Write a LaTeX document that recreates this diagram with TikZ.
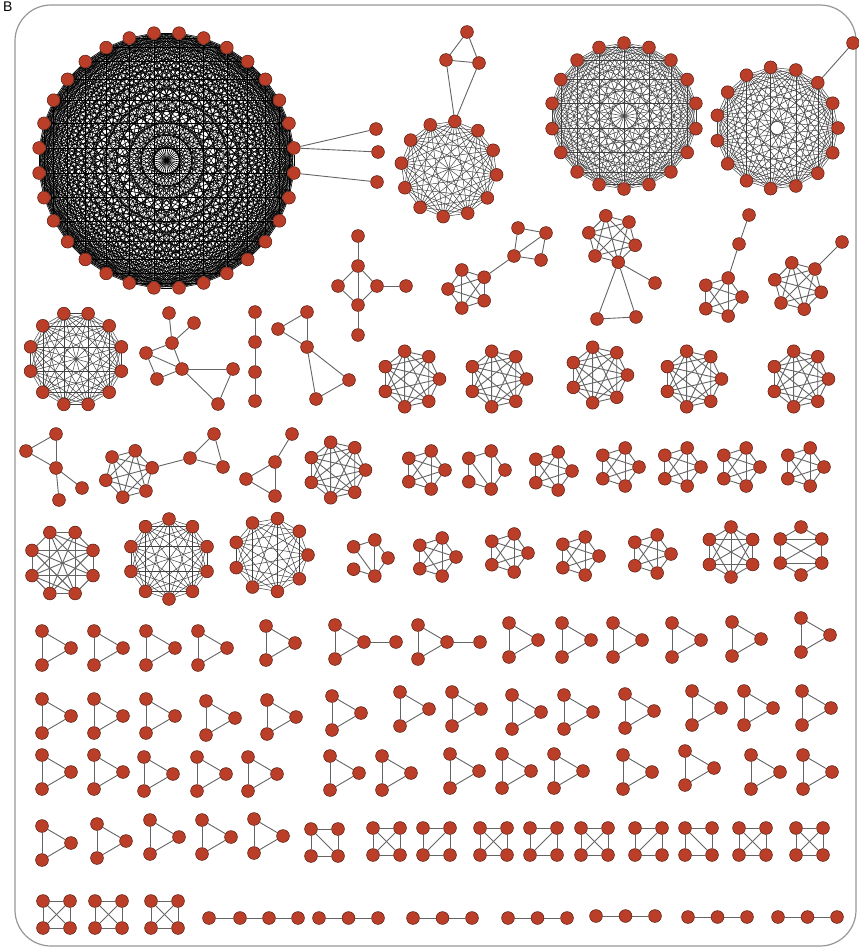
\documentclass[tikz,border=0pt]{standalone}
\usepackage{fontspec}
\setsansfont{Liberation Sans}
\definecolor{nodered}{RGB}{186,62,40}
\definecolor{nodeborder}{RGB}{85,25,15}
\definecolor{edgegray}{RGB}{100,100,100}
\definecolor{framegray}{RGB}{150,150,150}
\pgfdeclarelayer{edgelayer}
\pgfsetlayers{edgelayer,main}
% ring of n nodes: name, cx, cy, r, n, start angle
\newcommand\ringV[6]{\foreach \va in {1,...,#5}{\node[v] (#1-\va) at ({#2+#4*cos(#6+360*(\va-1)/#5)},{#3-#4*sin(#6+360*(\va-1)/#5)}) {};}}
% complete graph edges: name, n, style
\newcommand\kE[3]{\begin{pgfonlayer}{edgelayer}\foreach \va in {1,...,#2}{\foreach \vb in {\va,...,#2}{\ifnum\va<\vb\relax\draw[#3] (#1-\va) -- (#1-\vb);\fi}}\end{pgfonlayer}}
% explicit edges: name, list a/b
\newcommand\eL[2]{\begin{pgfonlayer}{edgelayer}\foreach \va/\vb in {#2}{\draw[ed] (#1-\va) -- (#1-\vb);}\end{pgfonlayer}}
% cycle edges: name, n
\newcommand\cycE[2]{\begin{pgfonlayer}{edgelayer}\foreach \va in {1,...,#2}{\pgfmathtruncatemacro\vb{mod(\va,#2)+1}\draw[ed] (#1-\va) -- (#1-\vb);}\end{pgfonlayer}}
% explicit points: name, list k/x/y
\newcommand\ptsV[2]{\foreach \va/\px/\py in {#2}{\node[v] (#1-\va) at (\px,\py) {};}}
% triangle from top-left node
\newcommand\triG[3]{\node[v] (#1-1) at (#2,#3) {};\node[v] (#1-2) at ({#2},{#3+34}) {};\node[v] (#1-3) at ({#2+29},{#3+17}) {};\eL{#1}{1/2,2/3,1/3}}
% square from top-left node, extra edges
\newcommand\sqG[4]{\node[v] (#1-1) at (#2,#3) {};\node[v] (#1-2) at ({#2+27},{#3}) {};\node[v] (#1-3) at ({#2+27},{#3+27}) {};\node[v] (#1-4) at ({#2},{#3+27}) {};\eL{#1}{1/2,2/3,3/4,4/1,#4}}
% path of three from left node
\newcommand\pthG[3]{\node[v] (#1-1) at (#2,#3) {};\node[v] (#1-2) at ({#2+29.5},{#3}) {};\node[v] (#1-3) at ({#2+59},{#3}) {};\eL{#1}{1/2,2/3}}
\begin{document}
\begin{tikzpicture}[x=1pt,y=-1pt,
  v/.style={circle,fill=nodered,draw=nodeborder,line width=0.5pt,minimum size=12.8pt,inner sep=0pt},
  ed/.style={draw=edgegray,line width=0.9pt},
  edmid/.style={draw=black!75,line width=0.5pt},
  edthin/.style={draw=black,line width=0.6pt},
  frame/.style={draw=framegray,line width=1.2pt,rounded corners=36pt}]
\useasboundingbox (0,0) rectangle (859,950);
\draw[frame] (15,5) rectangle (856,946);
\node[anchor=base west,font=\sffamily\fontsize{14}{14}\selectfont,inner sep=0pt] (lbl) at (3,12) {B};

% ---------- top large graphs ----------
\ringV{ga}{166.5}{160.5}{128}{32}{5.625}
\kE{ga}{32}{edthin}
\ptsV{gap}{1/376/129,2/378/152,3/377/182}
\begin{pgfonlayer}{edgelayer}\draw[ed] (ga-1)--(gap-1) (ga-1)--(gap-2) (ga-32)--(gap-3);\end{pgfonlayer}

\ringV{gb}{449}{169}{48}{12}{23}
\kE{gb}{12}{edmid}
\ptsV{gbt}{1/467/32,2/446/60,3/479/63}
\eL{gbt}{1/2,1/3,2/3}
\begin{pgfonlayer}{edgelayer}\draw[ed] (gbt-2)--(gb-3) (gbt-3)--(gb-3);\end{pgfonlayer}

\ringV{gc}{624}{116}{73}{18}{90}
\kE{gc}{18}{edmid}

\ringV{gd}{777}{128}{61}{15}{0}
\kE{gd}{15}{edmid}
\node[v] (gdp) at (853,43) {};
\begin{pgfonlayer}{edgelayer}\draw[ed] (gd-3)--(gdp);\end{pgfonlayer}

% ---------- second band ----------
\ptsV{ge}{1/358/236,2/358/266,3/338/286,4/377/286,5/406/286,6/358/305,7/358/335}
\eL{ge}{1/2,2/3,2/4,2/6,3/6,4/6,4/5,6/7}

\ringV{gf}{468}{289}{20}{5}{36}
\kE{gf}{5}{ed}
\ptsV{gfs}{1/518/228,2/546/233,3/514/256,4/541/260}
\eL{gfs}{1/2,1/3,2/3,2/4,3/4}
\begin{pgfonlayer}{edgelayer}\draw[ed] (gf-1)--(gfs-3);\end{pgfonlayer}

\ringV{gg}{612}{239}{24}{6}{-15}
\kE{gg}{6}{ed}
\ptsV{ggx}{1/655/283,2/597/319,3/636/317}
\eL{ggx}{2/3}
\begin{pgfonlayer}{edgelayer}\draw[ed] (gg-6)--(ggx-1) (gg-6)--(ggx-2) (gg-6)--(ggx-3);\end{pgfonlayer}

\ringV{gh}{722}{297}{20}{5}{0}
\kE{gh}{5}{ed}
\ptsV{ghx}{1/739/244,2/749/215}
\eL{ghx}{1/2}
\begin{pgfonlayer}{edgelayer}\draw[ed] (gh-2)--(ghx-1);\end{pgfonlayer}

\ringV{gi}{798}{286}{24}{6}{-15}
\kE{gi}{6}{ed}
\node[v] (gip) at (842,242) {};
\begin{pgfonlayer}{edgelayer}\draw[ed] (gi-2)--(gip);\end{pgfonlayer}

\ringV{gj}{76}{359}{47}{12}{15}
\kE{gj}{12}{edmid}

\ptsV{gk}{1/169/313,2/194/323,3/172/343,4/146/353,5/182/369,6/157/379,7/233/369,8/218/404}
\eL{gk}{1/3,2/3,3/4,3/5,4/5,4/6,6/5,5/7,5/8,7/8}

\ptsV{gl}{1/255/312,2/255/342,3/255/372,4/255/401}
\eL{gl}{1/2,2/3,3/4}

\ptsV{gm}{1/307/312,2/278/329,3/307/347,4/349/380,5/316/399}
\eL{gm}{1/2,1/3,2/3,3/4,3/5,4/5}

\foreach \nm/\cx/\cy in {hp1/411/379,hp2/498/379,hp3/599/375,hp4/693/379,hp5/800/379}{\ringV{\nm}{\cx}{\cy}{28.5}{7}{0}\kE{\nm}{7}{ed}}

% ---------- row ~470 ----------
\ptsV{ra}{1/56/434,2/26/451,3/56/468,4/82/488,5/59/500}
\eL{ra}{1/2,1/3,2/3,3/4,3/5}

\ringV{rb}{129}{474}{24}{6}{15}
\kE{rb}{6}{ed}
\ptsV{rbt}{1/190/458,2/214/434,3/223/467}
\eL{rbt}{1/2,1/3,2/3}
\begin{pgfonlayer}{edgelayer}\draw[ed] (rb-1)--(rbt-1);\end{pgfonlayer}

\ptsV{rc}{1/292/434,2/275/462,3/246/479,4/275/496}
\eL{rc}{1/2,2/3,2/4,3/4}

\ringV{rd}{337}{470}{28.5}{7}{0}
\kE{rd}{7}{ed}

\foreach \nm/\cx/\cy in {re/425/470,rg/552/471,rh/619/467,ri/681/467,rj/740/467,rk/804/467}{\ringV{\nm}{\cx}{\cy}{20}{5}{0}\kE{\nm}{5}{ed}}
\ringV{rf}{485}{470}{20}{5}{0}
\cycE{rf}{5}
\eL{rf}{3/5,2/5}

% ---------- row ~555 ----------
\ringV{sa}{62.5}{563}{33}{8}{22.5}
\cycE{sa}{8}
\eL{sa}{1/4,2/5,3/6,4/7,5/8,6/1,7/2,8/3,1/5,2/6,3/7,4/8,1/3,5/7}

\ringV{sb}{169}{559}{40}{10}{90}
\kE{sb}{10}{edmid}

\ringV{sc}{271}{555}{37}{9}{0}
\kE{sc}{9}{edmid}

\ringV{sd}{369}{558}{19}{5}{0}
\eL{sd}{2/3,2/5,2/1,3/5,4/5,1/5}

\foreach \nm/\cx/\cy in {sp/436/557,sq/508/553,sr/579/556,ss/651/554}{\ringV{\nm}{\cx}{\cy}{20}{5}{0}\kE{\nm}{5}{ed}}

\ringV{st}{731}{552}{25}{6}{90}
\kE{st}{6}{ed}

\ringV{su}{801}{551}{24}{6}{90}
\cycE{su}{6}
\eL{su}{2/6,3/5,2/5,3/6}

% ---------- triangles ----------
\foreach \nm/\tx/\ty in {ta1/42/631,ta2/94/631,ta3/146/631,ta4/198/631,ta5/266/626,ta6/335/625,ta7/418/625,ta8/509/623,ta9/562/623,ta10/613/623,ta11/672/623,ta12/732/622,ta13/801/618}{\triG{\nm}{\tx}{\ty}}
\node[v] (ta6t) at (396,642) {};
\node[v] (ta7t) at (480,642) {};
\begin{pgfonlayer}{edgelayer}\draw[ed] (ta6-3)--(ta6t) (ta7-3)--(ta7t);\end{pgfonlayer}

\foreach \nm/\tx/\ty in {tb1/42/699,tb2/94/699,tb3/146/699,tb4/206/701,tb5/267/700,tb6/332/696,tb7/400/692,tb8/452/692,tb9/512/695,tb10/564/695,tb11/625/694,tb12/692/691,tb13/744/691,tb14/802/691}{\triG{\nm}{\tx}{\ty}}

\foreach \nm/\tx/\ty in {tc1/42/755,tc2/94/755,tc3/144/757,tc4/197/757,tc5/248/757,tc6/330/756,tc7/382/756,tc8/450/754,tc9/502/754,tc10/554/754,tc11/623/755,tc12/685/751,tc13/751/755,tc14/803/755}{\triG{\nm}{\tx}{\ty}}

\foreach \nm/\tx/\ty in {td1/42/826,td2/97/824,td3/150/820,td4/202/820,td5/254/819}{\triG{\nm}{\tx}{\ty}}

% ---------- squares ----------
\sqG{qa}{311}{829}{1/3}
\sqG{qb}{373}{828}{1/3,2/4}
\sqG{qc}{423}{828}{2/4}
\sqG{qd}{480}{828}{1/3,2/4}
\sqG{qe}{530}{828}{2/4}
\sqG{qf}{581}{828}{1/3,2/4}
\sqG{qg}{635}{828}{2/4}
\sqG{qh}{685}{828}{1/3}
\sqG{qi}{739}{828}{1/3,2/4}
\sqG{qj}{796}{828}{1/3,2/4}
\sqG{qk}{43}{901}{1/3,2/4}
\sqG{ql}{95}{901}{1/3,2/4}
\sqG{qm}{151}{901}{1/3,2/4}

% ---------- paths ----------
\ptsV{pa}{1/209/918,2/240/918,3/269/918,4/298/918}
\eL{pa}{1/2,2/3,3/4}
\pthG{pb}{319}{918}
\pthG{pc}{413}{918}
\pthG{pd}{508}{918}
\pthG{pe}{596}{916}
\pthG{pf}{688}{917}
\pthG{pg}{778}{917}
\end{tikzpicture}
\end{document}
